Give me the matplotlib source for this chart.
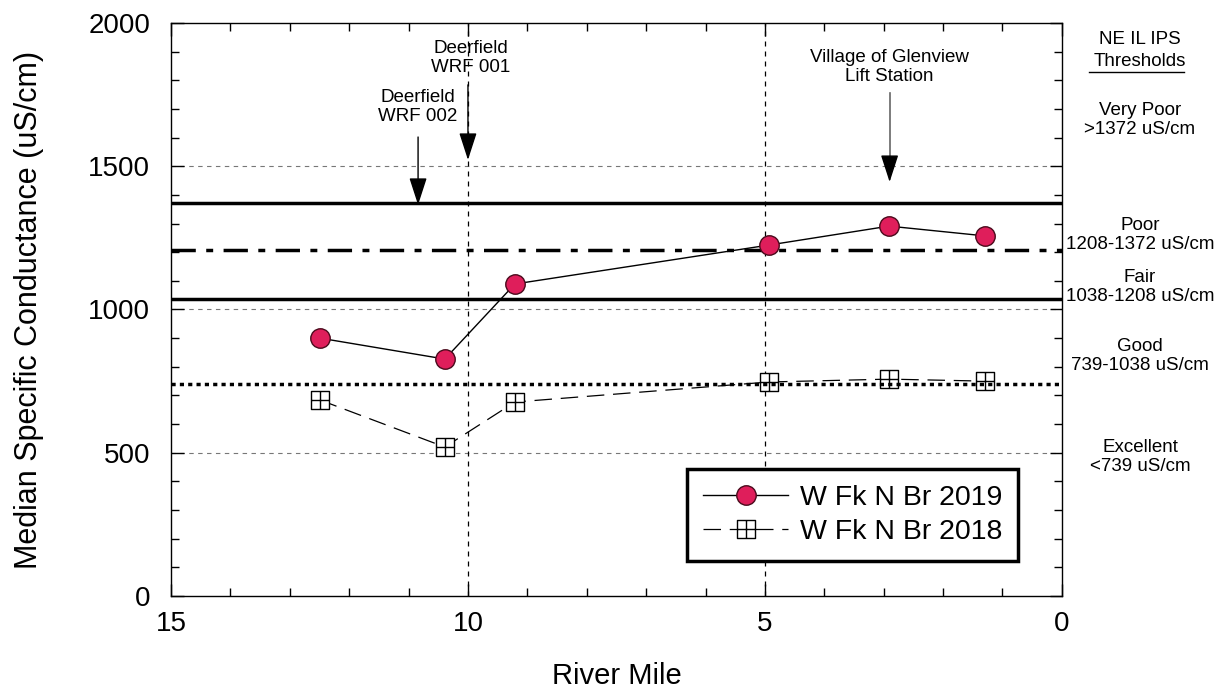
import matplotlib
matplotlib.use("Agg")
import matplotlib.pyplot as plt
from matplotlib.path import Path
from matplotlib.ticker import MultipleLocator

plt.rcParams['font.family'] = ['Liberation Sans', 'DejaVu Sans']

# River mile of each sampling station
miles = [12.49, 10.39, 9.21, 4.93, 2.91, 1.30]
cond_2019 = [900, 827, 1089, 1225, 1291, 1257]
cond_2018 = [684, 520, 677, 747, 757, 750]

# NE IL IPS thresholds (uS/cm)
thr_very_poor = 1372
thr_poor = 1208
thr_fair = 1038
thr_good = 739

threshold_text = [
    ("Very Poor\n>1372 uS/cm", 120),
    ("Poor\n1208-1372 uS/cm", 235),
    ("Fair\n1038-1208 uS/cm", 287),
    ("Good\n739-1038 uS/cm", 356),
    ("Excellent\n<739 uS/cm", 457),
]

# square with a cross inside, for the 2018 series
V = [(-1, -1), (1, -1), (1, 1), (-1, 1), (-1, -1),
     (0, -1), (0, 1), (-1, 0), (1, 0)]
C = [Path.MOVETO, Path.LINETO, Path.LINETO, Path.LINETO, Path.CLOSEPOLY,
     Path.MOVETO, Path.LINETO, Path.MOVETO, Path.LINETO]
box_marker = Path(V, C)

fig = plt.figure(figsize=(12.26, 6.92), dpi=100)
ax = fig.add_axes([0.1395, 0.1387, 0.7266, 0.8281])

ax.set_xlim(15, 0)
ax.set_ylim(0, 2000)

# threshold lines
ax.axhline(thr_very_poor, color='black', lw=2.5, zorder=3)
ax.axhline(thr_poor, color='black', lw=2.5, ls=(0, (7, 3, 2, 3)), zorder=3)
ax.axhline(thr_fair, color='black', lw=2.5, zorder=3)
ax.axhline(thr_good, color='black', lw=2.5, ls=(0, (1.2, 1.2)), zorder=3)

# grid
for y in [500, 1000, 1500]:
    ax.axhline(y, color='#777777', lw=0.8, ls=(0, (4, 4)), zorder=1)
for x in [5, 10]:
    ax.axvline(x, color='black', lw=0.9, ls=(0, (4, 4)), zorder=1)

ax.plot(miles, cond_2019, color='black', lw=1, marker='o', ms=14,
        mfc='#DF1E5B', mec='#4a0a1c', mew=1, zorder=4, label='W Fk N Br 2019')
ax.plot(miles, cond_2018, color='black', lw=0.9, ls=(0, (14, 7)),
        marker=box_marker, ms=13, mfc='white', mec='black', mew=1,
        zorder=2, label='W Fk N Br 2018')

# outfall annotations
arrow = dict(arrowstyle='-|>,head_length=1.7,head_width=0.55', color='black',
             lw=1, shrinkA=0, shrinkB=0)
ax.annotate('', xy=(10.84, 1365), xytext=(10.84, 1602), arrowprops=arrow)
ax.text(10.84, 1707, 'Deerfield\nWRF 002', ha='center', va='center',
        fontsize=13.5, linespacing=1.15)
ax.annotate('', xy=(10.0, 1522), xytext=(10.0, 1784), arrowprops=arrow)
ax.text(9.95, 1878, 'Deerfield\nWRF 001', ha='center', va='center',
        fontsize=13.5, linespacing=1.15)
ax.plot([2.9, 2.9], [1756, 1520], color='#666666', lw=1.2)
ax.annotate('', xy=(2.9, 1445), xytext=(2.9, 1525), arrowprops=arrow)
ax.text(2.9, 1846, 'Village of Glenview\nLift Station', ha='center',
        va='center', fontsize=13.5, linespacing=1.15)

# ticks
ax.xaxis.set_major_locator(MultipleLocator(5))
ax.xaxis.set_minor_locator(MultipleLocator(1))
ax.yaxis.set_major_locator(MultipleLocator(500))
ax.yaxis.set_minor_locator(MultipleLocator(100))
ax.tick_params(which='both', direction='in', top=True, right=True,
               labelsize=20, width=1)
ax.tick_params(which='major', length=9)
ax.tick_params(which='minor', length=6)
ax.tick_params(axis='y', which='major', pad=15)
ax.tick_params(axis='x', which='major', pad=11)
for s in ax.spines.values():
    s.set_linewidth(1)

ax.set_xlabel('River Mile', fontsize=21, labelpad=18)
ax.set_ylabel('Median Specific Conductance (uS/cm)', fontsize=22, labelpad=32)

leg = ax.legend(loc='lower right', bbox_to_anchor=(0.9506, 0.061),
                borderaxespad=0, fontsize=20.5, fancybox=False,
                edgecolor='black', handlelength=3.0, handletextpad=0.4,
                borderpad=0.55, labelspacing=0.3, framealpha=1)
leg.get_frame().set_linewidth(2.5)

# threshold key on the right
fx = 1140 / 1226
fig.text(fx, 1 - 40 / 692, 'NE IL IPS', ha='center', va='center',
         fontsize=13.5)
fig.text(fx, 1 - 62 / 692, 'Thresholds', ha='center', va='center',
         fontsize=13.5)
fig.add_artist(plt.Line2D([1089 / 1226, 1184 / 1226],
                          [1 - 72 / 692, 1 - 72 / 692],
                          color='black', lw=1, transform=fig.transFigure))
for txt, py in threshold_text:
    fig.text(fx, 1 - py / 692, txt, ha='center', va='center',
             fontsize=13.5, linespacing=1.15)

fig.savefig('out.png', dpi=100, facecolor='white')
